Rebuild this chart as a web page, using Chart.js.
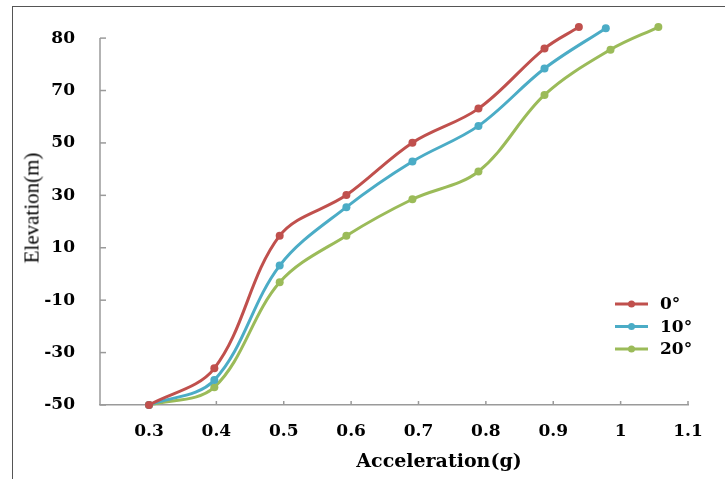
<!DOCTYPE html>
<html><head><meta charset="utf-8">
<script src="https://cdn.jsdelivr.net/npm/chart.js@4.4.1/dist/chart.umd.min.js"></script>
<style>
html,body{margin:0;padding:0;background:#fff;}
#wrap{position:relative;width:725px;height:479px;overflow:hidden;background:#fff;}
#frame{position:absolute;left:12px;top:6px;width:760px;height:520px;border-top:1.5px solid #555;border-left:1.5px solid #555;}
canvas{position:absolute;left:0;top:0;}
.ytitle{position:absolute;left:32px;top:208px;transform:translate(-50%,-50%) rotate(-90deg);font:21px "Liberation Serif";white-space:nowrap;color:#000;}
.xtitle{position:absolute;left:439px;top:460px;transform:translate(-50%,-50%);font:bold 19px "DejaVu Serif";white-space:nowrap;color:#000;}
</style></head>
<body><div id="wrap"><div id="frame"></div><canvas id="c" width="725" height="479"></canvas><div class="ytitle">Elevation(m)</div><div class="xtitle">Acceleration(g)</div></div>
<script>
// ---- data ----
const seriesNames = ['0°', '10°', '20°'];
const seriesColors = ['#C0504D', '#4BACC6', '#9BBB59'];

const xRed   = [0.3, 0.397, 0.494, 0.593, 0.691, 0.789, 0.887, 0.938];
const yRed   = [-50, -36.0, 14.6, 30.1, 50.1, 63.1, 78.0, 82.1];
const xBlue  = [0.3, 0.397, 0.494, 0.593, 0.691, 0.789, 0.887, 0.978];
const yBlue  = [-50, -40.5, 3.2, 25.5, 42.9, 56.5, 74.2, 81.9];
const xGreen = [0.3, 0.397, 0.494, 0.593, 0.691, 0.789, 0.887, 0.985, 1.056];
const yGreen = [-50, -43.2, -3.2, 14.6, 28.5, 39.1, 68.3, 77.8, 82.1];

const xTickValues = [0.3, 0.4, 0.5, 0.6, 0.7, 0.8, 0.9, 1.0, 1.1];
const xTickLabels = ['0.3', '0.4', '0.5', '0.6', '0.7', '0.8', '0.9', '1', '1.1'];
const yTickValues = [-50, -30, -10, 10, 30, 50, 70, 80];
const yTickLabels = ['-50', '-30', '-10', '10', '30', '50', '70', '80'];

// the value axis places its labelled ticks at equal steps; map elevations onto it
function toAxis(v) {
  const t = yTickValues;
  for (let i = 0; i < t.length - 1; i++) {
    if (v <= t[i + 1] || i === t.length - 2) return i + (v - t[i]) / (t[i + 1] - t[i]);
  }
}

const axisColor = '#9a9a9a';
const tickFont = {family: 'DejaVu Serif', size: 17, weight: 'bold'};
const topIdx = yTickLabels.length - 1;

function mk(xs, ys, idx) {
  return {
    label: seriesNames[idx],
    data: xs.map((x, i) => ({x: x, y: toAxis(ys[i])})),
    borderColor: seriesColors[idx],
    backgroundColor: seriesColors[idx],
    pointBackgroundColor: seriesColors[idx],
    pointBorderWidth: 0,
    pointRadius: 4,
    borderWidth: 3,
    tension: 0.35,
    fill: false,
    clip: false
  };
}

const extras = {
  id: 'extras',
  beforeDatasetsDraw(chart) {
    const {ctx, chartArea: a, scales: {x, y}} = chart;
    ctx.save();
    ctx.strokeStyle = axisColor;
    ctx.lineWidth = 1.5;
    // value axis line up to the top labelled tick
    ctx.beginPath(); ctx.moveTo(a.left, a.bottom); ctx.lineTo(a.left, y.getPixelForValue(topIdx)); ctx.stroke();
    yTickValues.forEach((v, i) => {
      const py = y.getPixelForValue(i);
      ctx.beginPath(); ctx.moveTo(a.left, py); ctx.lineTo(a.left + 6, py); ctx.stroke();
    });
    xTickValues.forEach(v => {
      const px = x.getPixelForValue(v);
      ctx.beginPath(); ctx.moveTo(px, a.bottom); ctx.lineTo(px, a.bottom - 4); ctx.stroke();
    });
    ctx.restore();
  },
  afterDatasetsDraw(chart) {
    const {ctx, chartArea: a} = chart;
    ctx.save();
    const lx = a.right - 73, ly = a.bottom - 101, gap = 22.5;
    ctx.font = 'bold 17px "DejaVu Serif"';
    ctx.textBaseline = 'middle';
    ctx.textAlign = 'left';
    seriesNames.forEach((n, i) => {
      const yy = ly + i * gap;
      ctx.strokeStyle = seriesColors[i];
      ctx.lineWidth = 3;
      ctx.beginPath(); ctx.moveTo(lx, yy); ctx.lineTo(lx + 33, yy); ctx.stroke();
      ctx.fillStyle = seriesColors[i];
      ctx.beginPath(); ctx.arc(lx + 16.5, yy, 3.5, 0, Math.PI * 2); ctx.fill();
      ctx.fillStyle = '#000';
      ctx.fillText(n, lx + 45, yy + 1);
    });
    ctx.restore();
  }
};

new Chart(document.getElementById('c'), {
  type: 'line',
  data: {datasets: [mk(xRed, yRed, 0), mk(xBlue, yBlue, 1), mk(xGreen, yGreen, 2)]},
  options: {
    responsive: false,
    animation: false,
    devicePixelRatio: 1,
    layout: {padding: {top: 25, right: 37, left: 0, bottom: 0}},
    plugins: {legend: {display: false}, tooltip: {enabled: false}},
    scales: {
      x: {
        type: 'linear', min: 0.2273, max: 1.1,
        afterBuildTicks: s => { s.ticks = xTickValues.map(v => ({value: v})); },
        afterFit: s => { s.height = 74; },
        grid: {display: false},
        border: {display: true, color: axisColor, width: 1.5},
        ticks: {
          callback: (v, i) => xTickLabels[i],
          font: tickFont, color: '#000', padding: 8, maxRotation: 0, autoSkip: false
        }
      },
      y: {
        type: 'linear', min: 0, max: 7.25,
        afterBuildTicks: s => { s.ticks = yTickLabels.map((_, i) => ({value: i})); },
        afterFit: s => { s.width = 100; s.paddingTop = 0; s.paddingBottom = 0; },
        grid: {display: false},
        border: {display: false},
        ticks: {
          callback: (v) => yTickLabels[v],
          font: tickFont, color: '#000', padding: 17, autoSkip: false
        }
      }
    }
  },
  plugins: [extras]
});
</script>
</body></html>
